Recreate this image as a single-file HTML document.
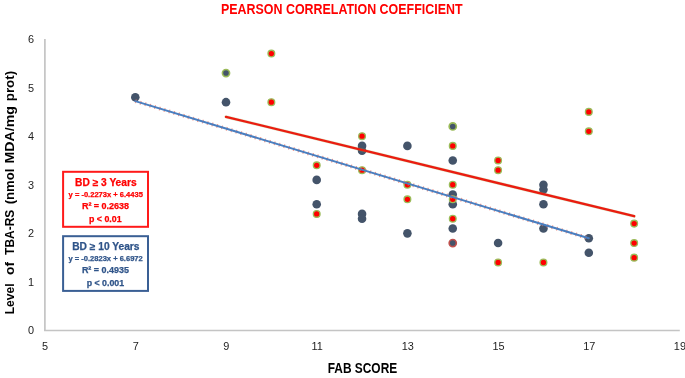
<!DOCTYPE html>
<html><head><meta charset="utf-8"><style>
html,body{margin:0;padding:0;background:#fff;}
body{width:685px;height:378px;overflow:hidden;position:relative;}
svg{position:absolute;left:0;top:0;will-change:transform;}
text{font-family:"Liberation Sans",sans-serif;}
.tk{font-size:10.9px;fill:#222;}
.b{font-weight:bold;}
</style></head><body>
<svg width="685" height="378" viewBox="0 0 685 378">
<text x="341.75" y="14.2" class="b" font-size="14" fill="#ff0000" text-anchor="middle" textLength="241.5" lengthAdjust="spacingAndGlyphs">PEARSON CORRELATION COEFFICIENT</text>
<line x1="44.9" y1="39" x2="44.9" y2="330.6" stroke="#c4c4c4" stroke-width="1.7"/>
<line x1="44.05" y1="330.6" x2="679.8" y2="330.6" stroke="#c4c4c4" stroke-width="1.5"/>
<text x="34" y="334.00" class="tk" text-anchor="end">0</text>
<text x="34" y="285.50" class="tk" text-anchor="end">1</text>
<text x="34" y="237.00" class="tk" text-anchor="end">2</text>
<text x="34" y="188.50" class="tk" text-anchor="end">3</text>
<text x="34" y="140.00" class="tk" text-anchor="end">4</text>
<text x="34" y="91.50" class="tk" text-anchor="end">5</text>
<text x="34" y="43.00" class="tk" text-anchor="end">6</text>
<text x="45.00" y="349.5" class="tk" text-anchor="middle">5</text>
<text x="135.70" y="349.5" class="tk" text-anchor="middle">7</text>
<text x="226.40" y="349.5" class="tk" text-anchor="middle">9</text>
<text x="317.10" y="349.5" class="tk" text-anchor="middle">11</text>
<text x="407.80" y="349.5" class="tk" text-anchor="middle">13</text>
<text x="498.50" y="349.5" class="tk" text-anchor="middle">15</text>
<text x="589.20" y="349.5" class="tk" text-anchor="middle">17</text>
<text x="679.90" y="349.5" class="tk" text-anchor="middle">19</text>
<circle cx="135.30" cy="97.32" r="4.3" fill="#44546a"/>
<circle cx="226.00" cy="102.17" r="4.3" fill="#44546a"/>
<circle cx="316.70" cy="179.90" r="4.3" fill="#44546a"/>
<circle cx="316.70" cy="204.19" r="4.3" fill="#44546a"/>
<circle cx="362.05" cy="145.90" r="4.3" fill="#44546a"/>
<circle cx="362.05" cy="150.75" r="4.3" fill="#44546a"/>
<circle cx="362.05" cy="213.91" r="4.3" fill="#44546a"/>
<circle cx="362.05" cy="218.77" r="4.3" fill="#44546a"/>
<circle cx="407.40" cy="145.90" r="4.3" fill="#44546a"/>
<circle cx="407.40" cy="233.34" r="4.3" fill="#44546a"/>
<circle cx="452.75" cy="160.47" r="4.3" fill="#44546a"/>
<circle cx="452.75" cy="194.48" r="4.3" fill="#44546a"/>
<circle cx="452.75" cy="204.19" r="4.3" fill="#44546a"/>
<circle cx="452.75" cy="228.48" r="4.3" fill="#44546a"/>
<circle cx="498.10" cy="243.06" r="4.3" fill="#44546a"/>
<circle cx="543.45" cy="184.76" r="4.3" fill="#44546a"/>
<circle cx="543.45" cy="189.62" r="4.3" fill="#44546a"/>
<circle cx="543.45" cy="204.19" r="4.3" fill="#44546a"/>
<circle cx="543.45" cy="228.48" r="4.3" fill="#44546a"/>
<circle cx="588.80" cy="238.20" r="4.3" fill="#44546a"/>
<circle cx="588.80" cy="252.77" r="4.3" fill="#44546a"/>
<circle cx="226.00" cy="73.03" r="3.6" fill="#44546a" stroke="#9bbb59" stroke-width="1.6"/>
<circle cx="452.75" cy="126.46" r="3.6" fill="#44546a" stroke="#9bbb59" stroke-width="1.6"/>
<circle cx="452.75" cy="243.06" r="3.6" fill="#44546a" stroke="#c0504d" stroke-width="1.6"/>
<circle cx="271.35" cy="53.59" r="3.35" fill="#ff0000" stroke="#9bbb59" stroke-width="1.35"/>
<circle cx="271.35" cy="102.17" r="3.35" fill="#ff0000" stroke="#9bbb59" stroke-width="1.35"/>
<circle cx="316.70" cy="165.33" r="3.35" fill="#ff0000" stroke="#9bbb59" stroke-width="1.35"/>
<circle cx="316.70" cy="213.91" r="3.35" fill="#ff0000" stroke="#9bbb59" stroke-width="1.35"/>
<circle cx="362.05" cy="136.18" r="3.35" fill="#ff0000" stroke="#9bbb59" stroke-width="1.35"/>
<circle cx="362.05" cy="170.19" r="3.35" fill="#ff0000" stroke="#9bbb59" stroke-width="1.35"/>
<circle cx="407.40" cy="184.76" r="3.35" fill="#ff0000" stroke="#9bbb59" stroke-width="1.35"/>
<circle cx="407.40" cy="199.33" r="3.35" fill="#ff0000" stroke="#9bbb59" stroke-width="1.35"/>
<circle cx="452.75" cy="145.90" r="3.35" fill="#ff0000" stroke="#9bbb59" stroke-width="1.35"/>
<circle cx="452.75" cy="184.76" r="3.35" fill="#ff0000" stroke="#9bbb59" stroke-width="1.35"/>
<circle cx="452.75" cy="199.33" r="3.35" fill="#ff0000" stroke="#9bbb59" stroke-width="1.35"/>
<circle cx="452.75" cy="218.77" r="3.35" fill="#ff0000" stroke="#9bbb59" stroke-width="1.35"/>
<circle cx="498.10" cy="160.47" r="3.35" fill="#ff0000" stroke="#9bbb59" stroke-width="1.35"/>
<circle cx="498.10" cy="170.19" r="3.35" fill="#ff0000" stroke="#9bbb59" stroke-width="1.35"/>
<circle cx="498.10" cy="262.49" r="3.35" fill="#ff0000" stroke="#9bbb59" stroke-width="1.35"/>
<circle cx="543.45" cy="262.49" r="3.35" fill="#ff0000" stroke="#9bbb59" stroke-width="1.35"/>
<circle cx="588.80" cy="111.89" r="3.35" fill="#ff0000" stroke="#9bbb59" stroke-width="1.35"/>
<circle cx="588.80" cy="131.32" r="3.35" fill="#ff0000" stroke="#9bbb59" stroke-width="1.35"/>
<circle cx="634.15" cy="223.62" r="3.35" fill="#ff0000" stroke="#9bbb59" stroke-width="1.35"/>
<circle cx="634.15" cy="243.06" r="3.35" fill="#ff0000" stroke="#9bbb59" stroke-width="1.35"/>
<circle cx="634.15" cy="257.63" r="3.35" fill="#ff0000" stroke="#9bbb59" stroke-width="1.35"/>
<line x1="135.30" y1="101.15" x2="588.80" y2="238.29" stroke="#e87060" stroke-width="3.8" stroke-dasharray="1.2 3.8" opacity="0.75"/>
<line x1="135.30" y1="101.15" x2="588.80" y2="238.29" stroke="#4a7ebf" stroke-width="2.0" stroke-linecap="round"/>
<line x1="226.00" y1="116.85" x2="634.15" y2="216.23" stroke="#9bbb59" stroke-width="3.2" stroke-linecap="round" opacity="0.3"/>
<line x1="226.00" y1="116.85" x2="634.15" y2="216.23" stroke="#ea1c10" stroke-width="2.3" stroke-linecap="round"/>
<text x="362.45" y="373" class="b" font-size="14" fill="#000" text-anchor="middle" textLength="69.5" lengthAdjust="spacingAndGlyphs">FAB SCORE</text>
<text transform="translate(14.4,0) rotate(-90)" x="-314.30" y="0" class="b" font-size="13" fill="#000" textLength="30.90" lengthAdjust="spacingAndGlyphs">Level</text>
<text transform="translate(14.4,0) rotate(-90)" x="-275.00" y="0" class="b" font-size="13" fill="#000" textLength="13.00" lengthAdjust="spacingAndGlyphs">of</text>
<text transform="translate(14.4,0) rotate(-90)" x="-254.90" y="0" class="b" font-size="13" fill="#000" textLength="45.20" lengthAdjust="spacingAndGlyphs">TBA-RS</text>
<text transform="translate(14.4,0) rotate(-90)" x="-204.30" y="0" class="b" font-size="13" fill="#000" textLength="35.70" lengthAdjust="spacingAndGlyphs">(nmol</text>
<text transform="translate(14.4,0) rotate(-90)" x="-163.50" y="0" class="b" font-size="13" fill="#000" textLength="57.50" lengthAdjust="spacingAndGlyphs">MDA/mg</text>
<text transform="translate(14.4,0) rotate(-90)" x="-101.20" y="0" class="b" font-size="13" fill="#000" textLength="30.30" lengthAdjust="spacingAndGlyphs">prot)</text>
<rect x="63.1" y="171.8" width="84.9" height="55" fill="#fff" stroke="#ff1a1a" stroke-width="2"/>
<g fill="#ff0000" stroke="#ff0000" stroke-width="0.25" class="b" style="white-space:pre">
<text x="75.1" y="185.7" font-size="10" textLength="61.5" lengthAdjust="spacingAndGlyphs">BD ≥ 3 Years</text>
<text x="68.6" y="196.8" font-size="7.4" textLength="74.3" lengthAdjust="spacingAndGlyphs">y = -0.2273x + 6.4435</text>
<text x="81.9" y="208.6" font-size="8.8" textLength="47.2" lengthAdjust="spacingAndGlyphs">R² = 0.2638</text>
<text x="89.0" y="221.6" font-size="8.8" textLength="32.6" lengthAdjust="spacingAndGlyphs">p &lt; 0.01</text>
</g>
<rect x="63.1" y="236.2" width="84.9" height="54.7" fill="#fff" stroke="#3a5f94" stroke-width="2"/>
<g fill="#2f5489" stroke="#2f5489" stroke-width="0.25" class="b" style="white-space:pre">
<text x="72.2" y="249.7" font-size="10" textLength="67.3" lengthAdjust="spacingAndGlyphs">BD ≥ 10 Years</text>
<text x="68.4" y="260.8" font-size="7.4" textLength="74.4" lengthAdjust="spacingAndGlyphs">y = -0.2823x + 6.6972</text>
<text x="81.9" y="272.6" font-size="8.8" textLength="47.0" lengthAdjust="spacingAndGlyphs">R² = 0.4935</text>
<text x="86.7" y="285.7" font-size="8.8" textLength="37.5" lengthAdjust="spacingAndGlyphs">p &lt; 0.001</text>
</g>
</svg>
</body></html>
